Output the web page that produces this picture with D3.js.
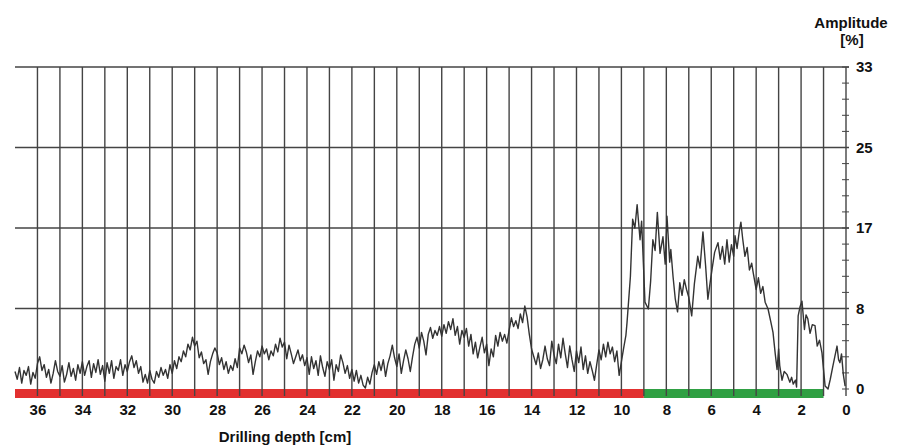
<!DOCTYPE html>
<html>
<head>
<meta charset="utf-8">
<script src="https://cdn.jsdelivr.net/npm/d3@7"></script>
<style>
  body { margin: 0; background: #fff; }
  svg text { font-family: "Liberation Sans", Arial, sans-serif; font-weight: bold; fill: #111; }
</style>
</head>
<body>
<svg id="chart" width="904" height="445"></svg>
<script>
const segA = { start: 37.0, amp: [1.8,1.0,2.2,0.6,1.9,1.4,2.3,0.5,1.7,1.1,2.6,3.3,1.9,2.5,1.2,2.0,0.6,1.6,2.9,1.8,1.3,2.4,0.7,1.5,2.7,1.3,2.1,0.9,2.5,1.6,2.8,1.4,2.3,2.9,1.2,2.6,1.7,3.0,1.5,2.4,0.8,2.7,1.6,2.9,1.1,2.3,1.9,3.0,1.4,2.5,1.8,2.8,3.4,2.2,2.9,1.6,2.3,0.7,1.5,0.6,1.9] };
const segB = { start: 30.9, amp: [1.0,0.6,1.8,1.2,2.2,1.4,2.0,1.1,2.5,1.6,2.9,2.1,3.3,2.8,3.9,3.3,4.6,4.0,5.3,4.4,4.9,3.2,3.8,2.6,3.0,1.5,2.8,3.6,4.2,3.7] };
const segC = { start: 27.9, amp: [
  2.5,3.2,2.0,2.8,1.6,2.4,1.9,3.1,2.2,4.2,
  3.6,4.5,3.8,2.7,3.5,1.5,2.8,3.9,3.3,4.4,
  3.6,4.1,3.0,3.9,3.4,4.6,3.8,5.2,4.3,4.8,
  3.1,4.5,3.6,2.6,3.3,4.0,2.9,3.5,2.4,3.2,
  1.5,3.3,2.1,2.9,1.4,3.4,2.2,1.3,2.8,2.0,
  3.0,0.9,2.5,1.8,3.5,2.7,1.6,2.4,1.1,2.0,
  0.8,1.9,0.6,1.4,0.4,0.1,1.2,0.5,1.7,2.5,
  1.5,2.8,1.9,3.0,1.3,2.6,3.4,4.5,3.2,2.3,
  3.6,1.6,2.9,4.0,3.1,1.8,3.3,4.6,5.3,4.2,
  5.8,4.9,3.5,5.6,6.3,5.2,6.0,5.5,6.4] };
const segD = { start: 18.0, amp: [
  5.4,6.6,5.7,6.9,6.1,7.2,5.5,6.4,4.6,6.0,5.3,
  6.2,4.4,5.6,3.6,4.8,3.2,4.3,5.3,3.7,4.6,
  2.4,4.1,3.3,5.5,4.4,5.8,4.9,5.6,4.7,6.0,
  7.3,6.4,7.0,6.2,7.7,6.8,8.5,7.4,5.6,4.1,
  3.3,2.5,3.7,2.1,3.0,4.4,3.1,2.4,4.9,3.5,
  2.6,4.6,3.2,5.2,3.6,2.2,4.4,3.0,1.8,3.9,
  2.7,4.3,2.0,3.4,1.6,2.8,1.9,0.9,2.5,4.0,
  3.0,4.6,3.3,4.8,3.6,4.3,2.8,3.9,1.4] };
// last 10 cm: [depth cm, amplitude %]
const tail = [
  [10.0,2.8],[9.9,4.2],[9.8,5.5],[9.75,6.8],[9.6,11.5],[9.5,17.4],[9.4,16.5],[9.3,18.9],[9.25,17.5],[9.17,15.3],
  [9.1,17.2],[8.95,8.9],[8.8,8.2],[8.7,11.0],[8.6,15.3],[8.5,14.2],[8.4,18.1],[8.28,13.9],[8.15,15.6],[8.05,12.8],
  [7.97,17.7],[7.85,13.0],[7.8,14.3],[7.7,11.5],[7.6,9.2],[7.5,7.9],[7.4,10.9],[7.3,9.6],[7.2,11.2],[7.1,10.2],
  [7.0,9.4],[6.87,7.5],[6.75,10.8],[6.6,13.6],[6.5,12.4],[6.37,16.1],[6.25,12.6],[6.15,9.2],[6.05,10.9],[5.95,12.5],
  [5.85,14.0],[5.7,15.0],[5.6,13.3],[5.5,14.6],[5.4,12.8],[5.3,15.3],[5.2,13.0],[5.1,14.8],[5.0,13.6],[4.94,15.7],
  [4.85,14.4],[4.75,16.2],[4.68,17.1],[4.6,15.4],[4.5,13.6],[4.4,14.5],[4.3,12.2],[4.2,12.9],[4.13,11.9],[4.0,10.2],
  [3.9,11.4],[3.8,9.8],[3.7,10.5],[3.6,8.9],[3.47,8.2],[3.35,6.9],[3.25,5.8],[3.15,3.6],[3.07,2.0],[3.0,4.1],
  [2.95,2.4],[2.85,0.9],[2.75,1.8],[2.63,1.5],[2.5,0.7],[2.42,1.2],[2.35,0.5],[2.25,0.9],[2.2,0.2],[2.13,7.5],
  [2.05,8.4],[1.96,9.0],[1.85,6.1],[1.78,7.6],[1.7,7.2],[1.6,5.7],[1.5,6.6],[1.38,6.5],[1.28,4.4],[1.18,5.0],
  [1.07,3.7],[0.93,0.3],[0.8,0.0],[0.7,1.0],[0.58,2.4],[0.5,3.3],[0.4,4.4],[0.33,3.0],[0.27,2.7],[0.2,3.6],
  [0.12,1.5],[0.04,0.3]
];

const depthTicks = [36,34,32,30,28,26,24,22,20,18,16,14,12,10,8,6,4,2,0];
const ampTicks = [0, 8.25, 16.5, 24.75, 33];
const ampLabels = ["0","8","17","25","33"];
// zones on the depth bar
const zones = [
  { from: 37, to: 9, color: "#e2302f" },
  { from: 9, to: 1, color: "#2fa043" }
];

const svg = d3.select("#chart");
const x = d3.scaleLinear().domain([37, 0]).range([15, 846]);
const y = d3.scaleLinear().domain([0, 33]).range([389, 67]);

let points = [];
[segA, segB, segC, segD].forEach(s => {
  s.amp.forEach((a, i) => points.push([+(s.start - i * 0.1).toFixed(2), a]));
});
points = points.concat(tail);

// coloured depth bar
svg.selectAll("rect.zone")
  .data(zones)
  .enter()
  .append("rect")
  .attr("class", "zone")
  .attr("x", d => x(d.from))
  .attr("width", d => x(d.to) - x(d.from))
  .attr("y", y(0))
  .attr("height", 9)
  .attr("fill", d => d.color);

// horizontal grid
svg.selectAll("line.hgrid")
  .data(ampTicks.slice(1))
  .enter()
  .append("line")
  .attr("x1", x(37)).attr("x2", x(0) + 3)
  .attr("y1", d => y(d)).attr("y2", d => y(d))
  .attr("stroke", "#444").attr("stroke-width", 1.4);

// vertical grid every cm
svg.selectAll("line.vgrid")
  .data(d3.range(1, 37))
  .enter()
  .append("line")
  .attr("x1", d => x(d)).attr("x2", d => x(d))
  .attr("y1", y(33)).attr("y2", y(0) + 7)
  .attr("stroke", "#444").attr("stroke-width", 1.4);

// right axis
svg.append("line")
  .attr("x1", x(0)).attr("x2", x(0))
  .attr("y1", y(33)).attr("y2", y(0) + 7)
  .attr("stroke", "#444").attr("stroke-width", 1.4);

svg.selectAll("line.minor")
  .data(d3.range(0, 21).map(i => i * 1.65))
  .enter()
  .append("line")
  .attr("x1", x(0) - 4).attr("x2", x(0) + 3)
  .attr("y1", d => y(d)).attr("y2", d => y(d))
  .attr("stroke", "#444").attr("stroke-width", 1);

const yAxis = svg.append("g")
  .attr("transform", "translate(" + x(0) + ",0)")
  .call(d3.axisRight(y).tickValues(ampTicks).tickSize(0).tickPadding(10)
    .tickFormat((d, i) => ampLabels[i]));
yAxis.select(".domain").remove();
yAxis.selectAll("text").style("font-size", "15px").attr("fill", "#111");

const xAxis = svg.append("g")
  .attr("transform", "translate(0,404)")
  .call(d3.axisBottom(x).tickValues(depthTicks).tickSize(0).tickPadding(0).tickFormat(d3.format("d")));
xAxis.select(".domain").remove();
xAxis.selectAll("text").style("font-size", "15px").attr("fill", "#111");

// trace
svg.append("path")
  .datum(points)
  .attr("fill", "none")
  .attr("stroke", "#333")
  .attr("stroke-width", 1.4)
  .attr("stroke-linejoin", "round")
  .attr("d", d3.line().x(d => x(d[0])).y(d => y(d[1])));

// titles
svg.append("text").attr("x", 851).attr("y", 28).attr("text-anchor", "middle")
  .style("font-size", "15px").text("Amplitude");
svg.append("text").attr("x", 852).attr("y", 45).attr("text-anchor", "middle")
  .style("font-size", "15px").text("[%]");
svg.append("text").attr("x", 285).attr("y", 442).attr("text-anchor", "middle")
  .style("font-size", "15px").text("Drilling depth [cm]");
</script>
</body>
</html>
